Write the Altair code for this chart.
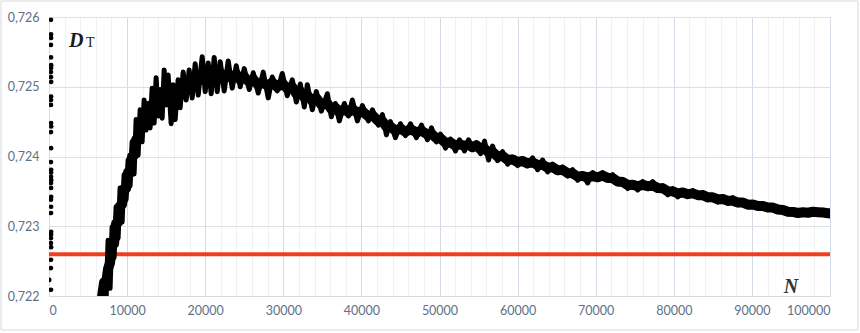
import altair as alt
import pandas as pd

# Running statistic D_T against sample size N (zig-zag trace of the dense point cloud)
curve_N = [
    6795, 7051, 7307, 7564, 7820, 8077, 8333, 8589, 8846, 9102, 9359, 9615, 9871,
    10128, 10384, 10641, 10897, 11153, 11410, 11666, 11923, 12179, 12435, 12692,
    12948, 13205, 13461, 13717, 13974, 14230, 14487, 14743, 14999, 15256, 15640,
    15897, 16153, 16538, 16794, 17179, 17563, 17948, 18333, 18717, 19102, 19615,
    19999, 20384, 20768, 21153, 21538, 21922,
    22435, 22948, 23461, 23973, 24486, 24999, 25640, 26153, 26794, 27435, 28076,
    28589, 29230, 29871, 30512, 31153, 31665, 32178, 32691, 33076, 33717, 34229,
    34870, 35640, 36152, 36665, 37178, 37819,
    38332, 38845, 39486, 40127, 40896, 41409, 42178, 42691, 43203, 43716, 44357,
    44998, 45639, 46280, 47049, 47690, 48460, 48972, 49613, 50126, 50767, 51408,
    52049, 52562, 53203, 53716, 54229,
    54741, 55254, 55767, 56280, 56793, 57434, 58075, 58716, 59357, 59998, 60639,
    61280, 61921, 62562, 63203, 63844, 64485, 65126, 65767, 66408, 67049, 67690,
    68331, 68972, 69613, 70254,
    70895, 71536, 72177, 72818, 73459, 74100, 74741, 75382, 76023, 76664, 77305,
    77946, 78587, 79228, 79869, 80510, 81151, 81792, 82433, 83074, 83715, 84356,
    84997, 85638, 86279,
    86920, 87561, 88202, 88843, 89484, 90125, 90766, 91407, 92048, 92689, 93330,
    93971, 94612, 95253, 95894, 96535, 97176, 97817, 98458, 99099, 99740, 100000,
]
curve_D = [
    0.72194, 0.72211, 0.72194, 0.72280, 0.72211, 0.72299, 0.72255, 0.72328, 0.72283,
    0.72355, 0.72306, 0.72374, 0.72338, 0.72395, 0.72358, 0.72421, 0.72375, 0.72453,
    0.72402, 0.72467, 0.72421, 0.72481, 0.72438, 0.72476, 0.72441, 0.72498, 0.72448,
    0.72513, 0.72458, 0.72496, 0.72455, 0.72524, 0.72474, 0.72517, 0.72447, 0.72503,
    0.72453, 0.72510, 0.72470, 0.72521, 0.72481, 0.72524, 0.72484, 0.72533, 0.72488,
    0.72543, 0.72493, 0.72534, 0.72490, 0.72542, 0.72493, 0.72536,
    0.72494, 0.72537, 0.72498, 0.72530, 0.72500, 0.72526, 0.72496, 0.72520, 0.72491,
    0.72521, 0.72484, 0.72514, 0.72494, 0.72519, 0.72487, 0.72510, 0.72478, 0.72504,
    0.72471, 0.72503, 0.72467, 0.72493, 0.72465, 0.72490, 0.72457, 0.72476, 0.72451,
    0.72476,
    0.72458, 0.72481, 0.72451, 0.72473, 0.72451, 0.72467, 0.72445, 0.72460, 0.72431,
    0.72450, 0.72427, 0.72447, 0.72430, 0.72447, 0.72427, 0.72445, 0.72424, 0.72441,
    0.72421, 0.72432, 0.72412, 0.72425, 0.72408, 0.72424, 0.72408, 0.72424, 0.72410,
    0.72420, 0.72404, 0.72422, 0.72395, 0.72415, 0.72394, 0.72407, 0.72389, 0.72399,
    0.72387, 0.72397, 0.72387, 0.72398, 0.72381, 0.72395, 0.72378, 0.72389, 0.72377,
    0.72385, 0.72372, 0.72381, 0.72366, 0.72375, 0.72362, 0.72377, 0.72369,
    0.72377, 0.72366, 0.72374, 0.72361, 0.72366, 0.72354, 0.72362, 0.72352, 0.72364,
    0.72355, 0.72364, 0.72352, 0.72358, 0.72345, 0.72354, 0.72342, 0.72351, 0.72344,
    0.72351, 0.72342, 0.72348, 0.72338, 0.72344, 0.72335, 0.72342,
    0.72333, 0.72341, 0.72331, 0.72336, 0.72329, 0.72333, 0.72326, 0.72332, 0.72325,
    0.72329, 0.72322, 0.72326, 0.72318, 0.72322, 0.72316, 0.72321, 0.72318, 0.72323,
    0.72319, 0.72323, 0.72318, 0.72315,
]

# Scattered values for the first few hundred samples
early_N = [250, 260, 270, 250, 260, 280, 270, 250, 260, 280, 270, 260, 250, 270,
           280, 260, 270, 250, 280, 270, 260, 290, 260, 270, 280, 250, 270, 260,
           280, 270, 260, 250, 270, 260, 250, 30, 260]
early_D = [0.72596, 0.72575, 0.72570, 0.72560, 0.72542, 0.72531, 0.72527, 0.72521,
           0.72514, 0.72507, 0.72486, 0.72481, 0.72474, 0.72448, 0.72443, 0.72435,
           0.72412, 0.72392, 0.72381, 0.72377, 0.72371, 0.72366, 0.72362, 0.72355,
           0.72342, 0.72338, 0.72328, 0.72319, 0.72292, 0.72288, 0.72283, 0.72276,
           0.72270, 0.72252, 0.72240, 0.72223, 0.72209]

# Limiting value (horizontal reference line)
limit_value = 0.7226
x_range = [0, 100000]
y_range = [0.722, 0.726]
y_ticks = [0.722, 0.723, 0.724, 0.725, 0.726]
x_ticks = list(range(0, 100001, 2000))

W, H = 781, 279
label_font = "Lato"
label_color = "#5e7084"

x_scale = alt.Scale(domain=x_range, nice=False, zero=False)
y_scale = alt.Scale(domain=y_range, nice=False, zero=False)

x_axis = alt.Axis(
    values=x_ticks,
    title=None,
    ticks=False,
    domain=True,
    domainColor="#d9d9d9",
    labelExpr="datum.value % 10000 === 0 ? format(datum.value, 'd') : ''",
    labelOverlap=False,
    labelFont=label_font,
    labelFontSize=12.5,
    labelColor=label_color,
    labelPadding=8,
    gridColor={"condition": {"test": "datum.value % 10000 === 0", "value": "#d3dce6"},
               "value": "#eef2f6"},
    gridWidth=1,
)
y_axis = alt.Axis(
    values=y_ticks,
    title=None,
    ticks=False,
    domain=False,
    labelExpr="replace(format(datum.value, '.3f'), '.', ',')",
    labelFont=label_font,
    labelFontSize=12.5,
    labelColor=label_color,
    labelPadding=10,
    gridColor="#dcdfe3",
    gridWidth=1,
)


def X(field):
    return alt.X(field, type="quantitative", scale=x_scale, axis=x_axis, title=None)


def Y(field):
    return alt.Y(field, type="quantitative", scale=y_scale, axis=y_axis, title=None)


curve_df = pd.DataFrame({"N": curve_N, "D": curve_D})
early_df = pd.DataFrame({"N": early_N, "D": early_D})

# Outer chart frame
frame = alt.Chart(pd.DataFrame({"k": [0]})).mark_rect(
    fillOpacity=0, stroke="#d9d9d9", strokeWidth=1
).encode(
    x=alt.value(-48), x2=alt.value(809), y=alt.value(-16), y2=alt.value(313)
)

limit = alt.Chart(
    pd.DataFrame({"y": [limit_value], "x0": [x_range[0]], "x1": [x_range[1]]})
).mark_rule(color="#ef3f22", strokeWidth=4).encode(x=X("x0"), x2="x1", y=Y("y"))

# Band core: rolling mean of the trace, drawn wide to fill the cloud
core = alt.Chart(curve_df).transform_window(
    Dm="mean(D)", frame=[-2, 2], sort=[alt.SortField("N")]
).mark_line(
    color="black", strokeWidth=10, strokeJoin="round", strokeCap="round", clip=True
).encode(x=X("N"), y=Y("Dm"), order="N:Q")

curve = alt.Chart(curve_df).mark_line(
    color="black", strokeWidth=5, strokeJoin="round", strokeCap="round", clip=True
).encode(x=X("N"), y=Y("D"), order="N:Q")

early = alt.Chart(early_df).mark_circle(
    color="black", opacity=1, size=22, clip=True
).encode(x=X("N"), y=Y("D"))

# Axis-name labels drawn inside the plot
d_label = alt.Chart(pd.DataFrame({"N": [3500], "D": [0.72557], "t": ["D"]})).mark_text(
    font="Liberation Serif", fontSize=20, fontStyle="italic", fontWeight="bold",
    color="#1a1a1a", align="center", baseline="alphabetic"
).encode(x=X("N"), y=Y("D"), text="t:N")

t_label = alt.Chart(pd.DataFrame({"N": [5300], "D": [0.72557], "t": ["T"]})).mark_text(
    font="Liberation Serif", fontSize=14, color="#1a1a1a", align="center",
    baseline="alphabetic"
).encode(x=X("N"), y=Y("D"), text="t:N")

n_box = alt.Chart(
    pd.DataFrame({"x0": [93330], "x1": [96660], "y0": [0.72201], "y1": [0.72226]})
).mark_rect(color="white").encode(x=X("x0"), x2="x1", y=Y("y0"), y2="y1")

n_label = alt.Chart(pd.DataFrame({"N": [95000], "D": [0.72205], "t": ["N"]})).mark_text(
    font="Liberation Serif", fontSize=20, fontStyle="italic", fontWeight="bold",
    color="#333333", align="center", baseline="alphabetic"
).encode(x=X("N"), y=Y("D"), text="t:N")

chart = alt.layer(
    frame, limit, core, curve, early, d_label, t_label, n_box, n_label
).properties(
    width=W, height=H,
    autosize=alt.AutoSizeParams(type="none"),
    padding={"left": 49, "top": 17, "right": 30, "bottom": 37},
    background="white",
).configure_view(stroke=None)

chart.save("out.html", embed_options={"renderer": "svg", "actions": False})
